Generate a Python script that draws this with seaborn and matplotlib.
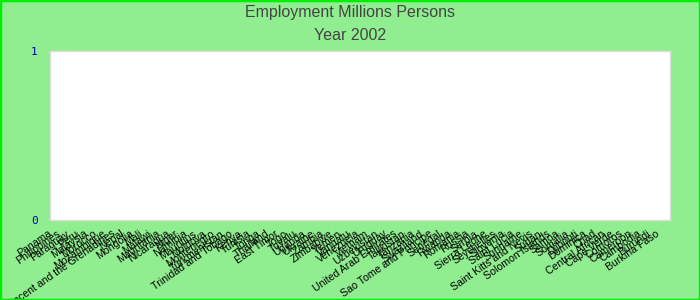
import matplotlib
matplotlib.use("Agg")
import matplotlib.pyplot as plt
import seaborn as sns
import pandas as pd
import numpy as np

countries = ["Panama", "Philippines", "Paraguay", "Peru", "Malaysia", "Morocco", "Mozambique",
             "Saint Vincent and the Grenadines", "Nepal", "Mongolia", "Mali", "Malawi", "Mauritania",
             "Nicaragua", "Niger", "Namibia", "Mauritius", "Moldova", "Montenegro", "Turkmenistan",
             "Trinidad and Tobago", "Kenya", "Tunisia", "Tonga", "Thailand", "East Timor", "Togo",
             "Tuvalu", "Uganda", "Ukraine", "Zambia", "Zimbabwe", "Yemen", "Vanuatu", "Venezuela",
             "Vietnam", "Uzbekistan", "Uruguay", "United Arab Emirates", "Tajikistan", "Tanzania",
             "Swaziland", "Sao Tome and Principe", "Senegal", "Rwanda", "Romania", "Russia", "Serbia",
             "Sierra Leone", "Seychelles", "Slovenia", "Saint Lucia", "Suriname", "Saint Kitts and Nevis",
             "Sudan", "Solomon Islands", "Samoa", "Somalia", "Djibouti", "Dominica", "Chad",
             "Central African", "Cape Verde", "Comoros", "Cameroon", "Cambodia", "Burundi",
             "Burkina Faso"]
values = [0.0] * len(countries)
y_ticks = [0, 1]
title_lines = ["Employment Millions Persons", "Year 2002"]

df = pd.DataFrame({"country": countries, "value": values})

sns.set_theme(style="white")
plt.rcParams['font.family'] = ['Liberation Sans', 'DejaVu Sans']

fig = plt.figure(figsize=(7, 3), dpi=100, facecolor="#90EE90")
fig.patches.append(plt.Rectangle((0, 0), 1, 1, transform=fig.transFigure, fill=False,
                                 edgecolor="#00EE00", linewidth=2.5, zorder=10))
ax = fig.add_axes([50/700, 1-220/300, 620/700, 169/300])
sns.barplot(data=df, x="country", y="value", ax=ax, color="#4472C4")
ax.set_facecolor("white")
n = len(countries)
ax.set_xlim(-0.05, (n - 1) * 620 / 608 - 0.05)
ax.set_ylim(0, 1)
ax.set_yticks(y_ticks)
ax.set_yticklabels([str(t) for t in y_ticks], color="#0000BB", family="DejaVu Sans Mono", fontsize=8)
ax.set_xticks(range(n))
ax.set_xticklabels(countries, rotation=35, ha="right", va="center", rotation_mode="anchor",
                   fontsize=7.6, color="#000000")
ax.tick_params(axis="x", length=0, pad=9)
ax.tick_params(axis="y", length=0, pad=9)
ax.set_xlabel("")
ax.set_ylabel("")
for s in ax.spines.values():
    s.set_color("#DDDDDD")
    s.set_linewidth(1)

fig.text(0.5, 1 - 13/300, title_lines[0], ha="center", va="center", fontsize=11.5, color="#444444",
         family=["Liberation Sans Narrow", "Liberation Sans", "DejaVu Sans"])
fig.text(0.5, 1 - 36/300, title_lines[1], ha="center", va="center", fontsize=11.5, color="#444444",
         family=["Liberation Sans Narrow", "Liberation Sans", "DejaVu Sans"])

fig.savefig("out.png", dpi=100, facecolor=fig.get_facecolor())
